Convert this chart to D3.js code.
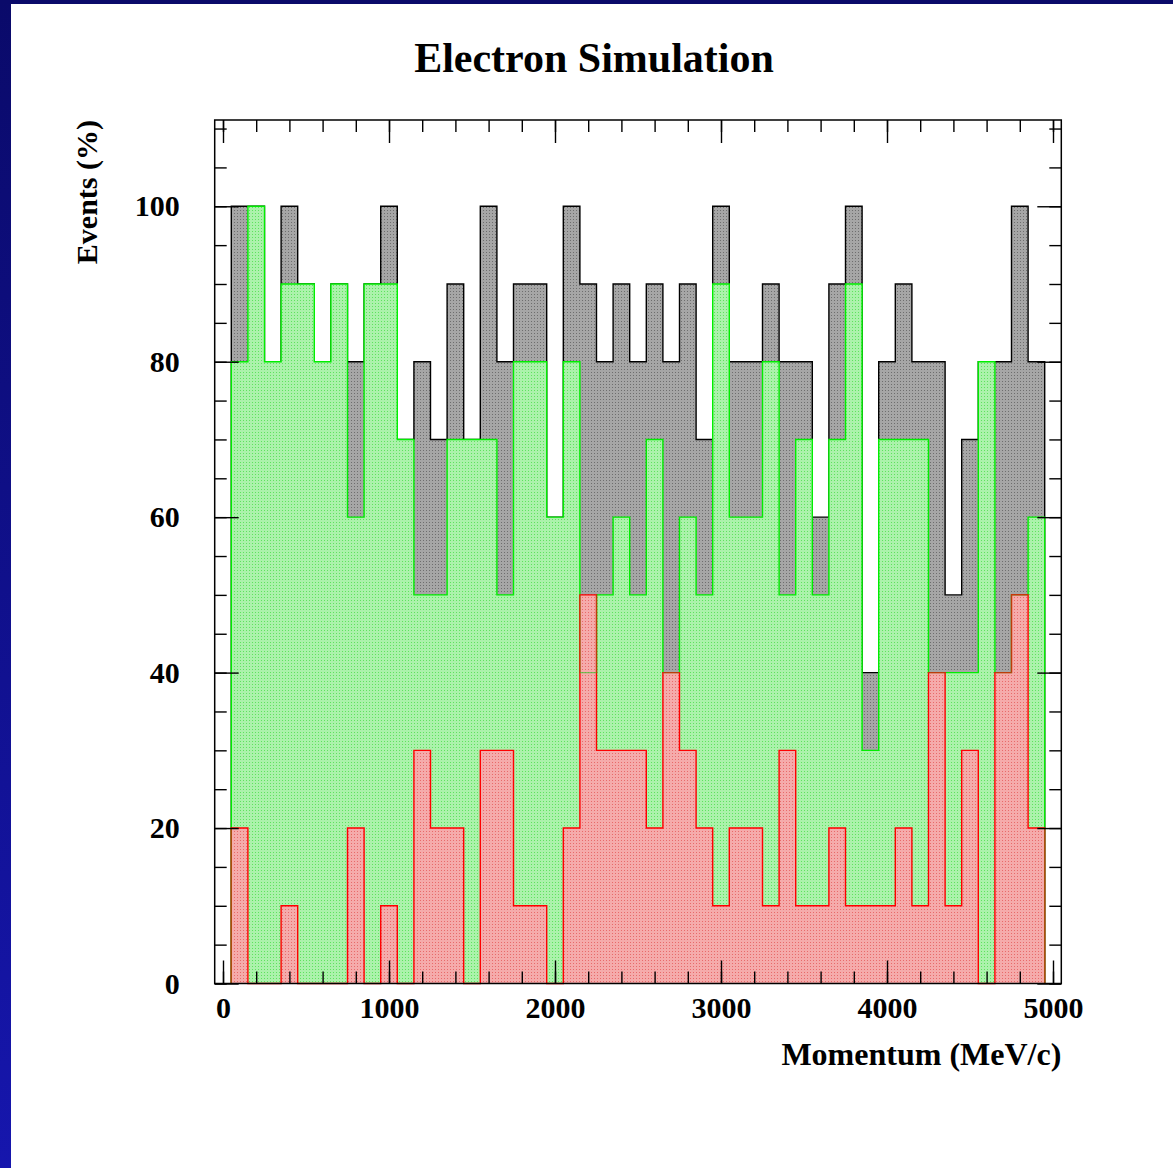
<!DOCTYPE html>
<html>
<head>
<meta charset="utf-8">
<script src="https://cdn.jsdelivr.net/npm/d3@7"></script>
<style>
  html, body { margin: 0; padding: 0; background: #fff; }
  svg { display: block; }
  text { font-family: "Liberation Serif", "Times New Roman", serif; font-weight: bold; fill: #000; }
</style>
</head>
<body>
<svg id="chart" width="1173" height="1168"></svg>
<script>
// Momentum bin centres (MeV/c), 100 MeV/c wide bins
const binCenters = [100, 200, 300, 400, 500, 600, 700, 800, 900, 1000,
  1100, 1200, 1300, 1400, 1500, 1600, 1700, 1800, 1900, 2000,
  2100, 2200, 2300, 2400, 2500, 2600, 2700, 2800, 2900, 3000,
  3100, 3200, 3300, 3400, 3500, 3600, 3700, 3800, 3900, 4000,
  4100, 4200, 4300, 4400, 4500, 4600, 4700, 4800, 4900];

// Events (%) per bin — black histogram
const blackHist = [100, 100, 80, 100, 90, 80, 90, 80, 90, 100,
  70, 80, 70, 90, 70, 100, 80, 90, 90, 60,
  100, 90, 80, 90, 80, 90, 80, 90, 70, 100,
  80, 80, 90, 80, 80, 60, 90, 100, 40, 80,
  90, 80, 80, 50, 70, 80, 80, 100, 80];

// Events (%) per bin — green histogram
const greenHist = [80, 100, 80, 90, 90, 80, 90, 60, 90, 90,
  70, 50, 50, 70, 70, 70, 50, 80, 80, 60,
  80, 40, 50, 60, 50, 70, 40, 60, 50, 90,
  60, 60, 80, 50, 70, 50, 70, 90, 30, 70,
  70, 70, 40, 40, 40, 80, 40, 50, 60];

// Events (%) per bin — red histogram
const redHist = [20, 0, 0, 10, 0, 0, 0, 20, 0, 10,
  0, 30, 20, 20, 0, 30, 30, 10, 10, 0,
  20, 50, 30, 30, 30, 20, 40, 30, 20, 10,
  20, 20, 10, 30, 10, 10, 20, 10, 10, 10,
  20, 10, 40, 10, 30, 0, 40, 50, 20];

const xTickLabels = [0, 1000, 2000, 3000, 4000, 5000];
const yTickLabels = [0, 20, 40, 60, 80, 100];

const binWidth = 100;
const svg = d3.select("#chart");
const frame = { left: 214.7, right: 1061.3, top: 120, bottom: 983.5 };

const x = d3.scaleLinear().domain([-50, 5050]).range([frame.left, frame.right]);
const y = d3.scaleLinear().domain([0, 111.1]).range([frame.bottom, frame.top]);

const defs = svg.append("defs");

// blue side band
const grad = defs.append("linearGradient").attr("id", "band")
  .attr("x1", 0).attr("y1", 0).attr("x2", 0).attr("y2", 1);
grad.append("stop").attr("offset", "0%").attr("stop-color", "#0a0a6a");
grad.append("stop").attr("offset", "100%").attr("stop-color", "#1616ad");

svg.append("rect").attr("x", 0).attr("y", 0).attr("width", 1173).attr("height", 1168).attr("fill", "#fff");
svg.append("rect").attr("x", 0).attr("y", 0).attr("width", 11).attr("height", 1168).attr("fill", "url(#band)");
svg.append("rect").attr("x", 0).attr("y", 0).attr("width", 1173).attr("height", 4).attr("fill", "#0a0a6a");

// step outline of a histogram
function stepPath(values) {
  const p = d3.path();
  p.moveTo(x(binCenters[0] - binWidth / 2), y(0));
  values.forEach((v, i) => {
    p.lineTo(x(binCenters[i] - binWidth / 2), y(v));
    p.lineTo(x(binCenters[i] + binWidth / 2), y(v));
  });
  p.lineTo(x(binCenters[binCenters.length - 1] + binWidth / 2), y(0));
  return p.toString();
}

// stippled fills: light base tone with a fine dot texture on top
function addStipple(id, base, dot) {
  const p = defs.append("pattern").attr("id", id)
    .attr("patternUnits", "userSpaceOnUse")
    .attr("x", 0).attr("y", 0).attr("width", 3).attr("height", 3);
  p.append("rect").attr("width", 3).attr("height", 3).attr("fill", base);
  p.append("rect").attr("x", 0).attr("y", 0).attr("width", 1).attr("height", 1)
    .attr("fill", dot).attr("shape-rendering", "crispEdges");
}
addStipple("fillBlack", "#a6a6a6", "#6e6e6e");
addStipple("fillGreen", "#abf2ab", "#5ee25e");
addStipple("fillRed", "#f5abab", "#e86a6a");

const histograms = [
  { key: "black", values: blackHist, fill: "url(#fillBlack)", stroke: "#000" },
  { key: "green", values: greenHist, fill: "url(#fillGreen)", stroke: "#00ee00" },
  { key: "red", values: redHist, fill: "url(#fillRed)", stroke: "#ff0000" }
];

const hg = svg.append("g");
histograms.forEach(h => {
  const d = stepPath(h.values);
  hg.append("path").attr("d", d + "Z").attr("fill", h.fill).attr("stroke", "none");
  hg.append("path").attr("d", d).attr("fill", "none")
    .attr("stroke", h.stroke).attr("stroke-width", 1.4);
});

// green outline faintly visible through the red stipple
defs.append("clipPath").attr("id", "redArea")
  .append("path").attr("d", stepPath(redHist) + "Z");
hg.append("path").attr("d", stepPath(greenHist)).attr("fill", "none")
  .attr("stroke", "#22cc22").attr("stroke-opacity", 0.6).attr("stroke-width", 1.2)
  .attr("clip-path", "url(#redArea)");

// axes: ticks point inward on all four sides
const axisStyle = g => {
  g.select(".domain").remove();
  g.selectAll(".tick line").attr("stroke", "#000").attr("stroke-width", 1.4);
  g.selectAll("text").attr("font-size", 30).attr("font-family", "Liberation Serif, serif")
    .attr("font-weight", "bold").attr("fill", "#000");
};

const xMinor = d3.range(0, 5001, 200);
const yMinor = d3.range(0, 111, 5);

// bottom
svg.append("g").attr("transform", `translate(0,${frame.bottom})`)
  .call(d3.axisBottom(x).tickValues(xMinor).tickSize(-12).tickFormat(""))
  .call(axisStyle);
svg.append("g").attr("transform", `translate(0,${frame.bottom})`)
  .call(d3.axisBottom(x).tickValues(xTickLabels).tickSize(-23).tickPadding(13).tickFormat(d3.format("d")))
  .call(axisStyle);
// top
svg.append("g").attr("transform", `translate(0,${frame.top})`)
  .call(d3.axisTop(x).tickValues(xMinor).tickSize(-12).tickFormat(""))
  .call(axisStyle);
svg.append("g").attr("transform", `translate(0,${frame.top})`)
  .call(d3.axisTop(x).tickValues(xTickLabels).tickSize(-23).tickFormat(""))
  .call(axisStyle);
// left
svg.append("g").attr("transform", `translate(${frame.left},0)`)
  .call(d3.axisLeft(y).tickValues(yMinor).tickSize(-12).tickFormat(""))
  .call(axisStyle);
svg.append("g").attr("transform", `translate(${frame.left},0)`)
  .call(d3.axisLeft(y).tickValues(yTickLabels).tickSize(-24).tickPadding(35).tickFormat(d3.format("d")))
  .call(axisStyle);
// right
svg.append("g").attr("transform", `translate(${frame.right},0)`)
  .call(d3.axisRight(y).tickValues(yMinor).tickSize(-12).tickFormat(""))
  .call(axisStyle);
svg.append("g").attr("transform", `translate(${frame.right},0)`)
  .call(d3.axisRight(y).tickValues(yTickLabels).tickSize(-24).tickFormat(""))
  .call(axisStyle);

// frame
svg.append("rect")
  .attr("x", frame.left).attr("y", frame.top)
  .attr("width", frame.right - frame.left).attr("height", frame.bottom - frame.top)
  .attr("fill", "none").attr("stroke", "#000").attr("stroke-width", 1.5);

// titles
svg.append("text").attr("x", 594).attr("y", 72).attr("text-anchor", "middle")
  .attr("font-size", 42).text("Electron Simulation");
svg.append("text").attr("x", frame.right).attr("y", 1065).attr("text-anchor", "end")
  .attr("font-size", 32).text("Momentum (MeV/c)");
svg.append("text").attr("transform", `translate(97,${frame.top}) rotate(-90)`)
  .attr("text-anchor", "end").attr("font-size", 30).text("Events (%)");
</script>
</body>
</html>
